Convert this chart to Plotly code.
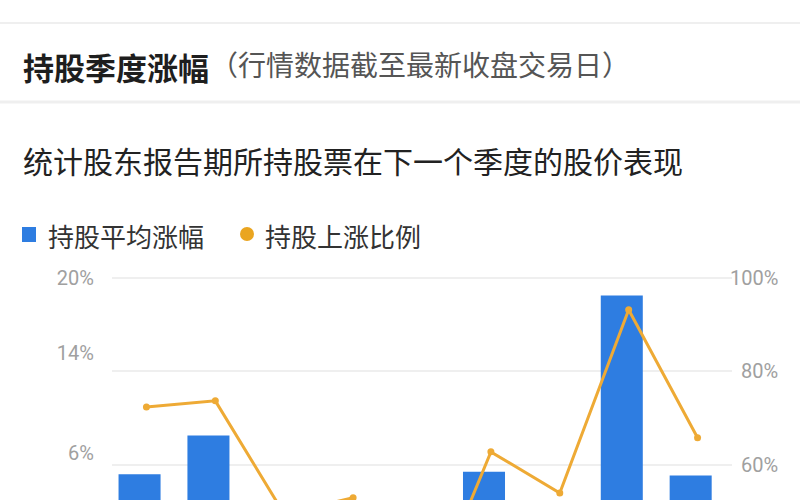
import plotly.graph_objects as go

# quarters (axis labels are cut off in the screenshot, so hidden)
quarters = ["2022Q1", "2022Q2", "2022Q3", "2022Q4", "2023Q1",
            "2023Q2", "2023Q3", "2023Q4", "2024Q1"]

# 持股平均涨幅 (%), left axis
avg_rise = [4.3, 7.4, -1.2, 0.8, -6.5, 4.5, 1.5, 18.6, 4.2]
# 持股上涨比例 (%), right axis
up_ratio = [72.4, 73.7, 49.5, 53.0, 27.0, 62.8, 54.0, 93.2, 65.8]

left_ticks = [6, 14, 20]
left_labels = ["6%", "14%", "20%"]
right_ticks = [60, 80, 100]
right_labels = ["60%", "80%", "100%"]

BLUE = "#2e7de1"
ORANGE = "#eeaa35"
CJK = "Noto Sans CJK SC, sans-serif"

# plot area in pixels: x 112..732, y 262..500
L, R, T, B = 112, 732, 262, 500
W, H = R - L, B - T


def px(x):
    return (x - L) / W


def py(y):
    return (B - y) / H


fig = go.Figure()

fig.add_trace(go.Bar(
    x=quarters, y=avg_rise, name="持股平均涨幅",
    marker=dict(color=BLUE, line=dict(width=0)),
    width=0.61, offset=-0.405,
))

fig.add_trace(go.Scatter(
    x=quarters, y=up_ratio, name="持股上涨比例", yaxis="y2",
    mode="lines+markers",
    line=dict(color=ORANGE, width=3),
    marker=dict(color=ORANGE, size=7),
))

annotations = [
    dict(text="<b>持股季度涨幅</b>", x=px(21), y=py(66), font=dict(size=31, color="#1e1e1e")),
    dict(text="（行情数据截至最新收盘交易日）", x=px(208), y=py(64), font=dict(size=28, color="#555")),
    dict(text="统计股东报告期所持股票在下一个季度的股价表现", x=px(21), y=py(160),
         font=dict(size=30, color="#222")),
    dict(text="持股平均涨幅", x=px(46), y=py(235), font=dict(size=26, color="#333")),
    dict(text="持股上涨比例", x=px(263), y=py(235), font=dict(size=26, color="#333")),
]
for a in annotations:
    a.update(xref="paper", yref="paper", xanchor="left", yanchor="middle",
             showarrow=False)
    a["font"]["family"] = CJK

for v, t in zip(right_ticks, right_labels):
    annotations.append(dict(
        text=t, x=px(780), y=v, xref="paper", yref="y2",
        xanchor="right", yanchor="middle", showarrow=False,
        font=dict(family="Roboto, sans-serif", size=20, color="#a0a0a0"),
    ))

shapes = [
    dict(type="line", xref="paper", yref="paper", x0=px(0), x1=px(800),
         y0=py(23), y1=py(23), line=dict(color="#efefef", width=2)),
    dict(type="line", xref="paper", yref="paper", x0=px(0), x1=px(800),
         y0=py(102), y1=py(102), line=dict(color="#efefef", width=3)),
    dict(type="rect", xref="paper", yref="paper", x0=px(22), x1=px(36),
         y0=py(242), y1=py(227), fillcolor=BLUE, line=dict(width=0)),
    dict(type="circle", xref="paper", yref="paper", x0=px(240), x1=px(254),
         y0=py(241), y1=py(227), fillcolor="#eaa520", line=dict(width=0)),
]

fig.update_layout(
    width=800, height=500,
    margin=dict(l=L, r=800 - R, t=T, b=0),
    paper_bgcolor="white", plot_bgcolor="white",
    showlegend=False,
    bargap=0.39,
    xaxis=dict(range=[-0.5, 8.5], showgrid=False, showticklabels=False,
               zeroline=False, showline=False, ticks=""),
    yaxis=dict(range=[2.24, 21.28], tickvals=left_ticks, ticktext=left_labels,
               showgrid=False, zeroline=False, showline=False, ticks="",
               ticklabelstandoff=17,
               tickfont=dict(family="Roboto, sans-serif", size=20, color="#a0a0a0")),
    yaxis2=dict(range=[52.5, 103.4], overlaying="y", side="right",
                tickvals=right_ticks, showticklabels=False,
                showgrid=True, gridcolor="#efefef", gridwidth=1.5,
                zeroline=False, showline=False, ticks=""),
    annotations=annotations,
    shapes=shapes,
)

# drop the browser's default 8px body margin so the figure sits at 0,0
fig.write_html("out.html", config={"displayModeBar": False},
               post_script="document.body.style.margin='0';")
